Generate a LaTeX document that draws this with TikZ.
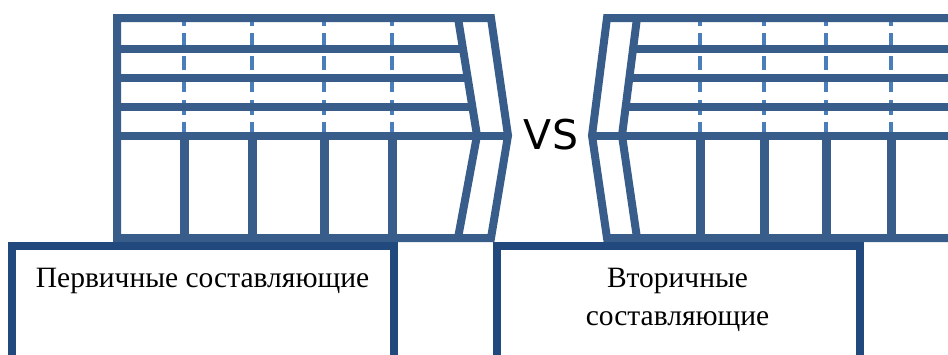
\documentclass[tikz,border=0pt]{standalone}
\usepackage{fontspec}
\setmainfont{Liberation Serif}
\newfontfamily\vsfont{DejaVu Sans}
\definecolor{struct}{RGB}{56,93,138}
\definecolor{boxc}{RGB}{33,73,125}
\definecolor{dashc}{RGB}{74,126,187}
\begin{document}
\begin{tikzpicture}[x=1pt,y=-1pt,
  frame/.style={draw=struct,line width=8pt,line join=miter},
  post/.style={draw=struct,line width=9pt},
  rail/.style={draw=struct,line width=8pt},
  mullion/.style={draw=dashc,line width=4pt,dash pattern=on 14.5pt off 7.7pt,dash phase=4.8pt},
  label box/.style={draw=boxc,line width=8pt,fill=white},
  caption/.style={font=\fontsize{29.5}{38}\selectfont,inner sep=0pt,anchor=base}]
\useasboundingbox (0,0) rectangle (948,354);
\clip (0,0) rectangle (948,354);
% left structure
\foreach \x in {184,252,324,392} \draw[mullion] (\x,16) -- (\x,136);
\draw[rail] (117,49) -- (463,49);
\draw[rail] (117,78) -- (468,78);
\draw[rail] (117,107) -- (472.5,107);
\draw[rail] (117,135.5) -- (508,135.5);
\foreach \x in {184,252,324,392} \draw[post] (\x,135.5) -- (\x,238);
\draw[frame] (117,18) -- (491,18) -- (508,135.5) -- (491,238) -- (117,238) -- cycle;
\draw[frame] (458,18) -- (477,135.5) -- (458,238);
% right structure
\foreach \x in {700,764,826,891} \draw[mullion] (\x,16) -- (\x,136);
\draw[rail] (633,49) -- (960,49);
\draw[rail] (629.5,78) -- (960,78);
\draw[rail] (625.5,107) -- (960,107);
\draw[rail] (592,135.5) -- (960,135.5);
\foreach \x in {700,764,826,891} \draw[post] (\x,135.5) -- (\x,238);
\draw[frame] (960,18) -- (607,18) -- (592,135.5) -- (607,238) -- (960,238);
\draw[frame] (637,18) -- (622,135.5) -- (637,238);
% VS
\node[font=\vsfont\fontsize{41}{41}\selectfont,inner sep=0pt,anchor=base] (vs) at (551,149) {VS};
% boxes
\draw[label box] (12,246) rectangle (394,362);
\draw[label box] (497,246) rectangle (860,362);
\node[caption] (prim) at (202.5,287) {Первичные составляющие};
\node[caption] (sec1) at (677.5,287) {Вторичные};
\node[caption] (sec2) at (677.5,325) {составляющие};
\end{tikzpicture}
\end{document}
